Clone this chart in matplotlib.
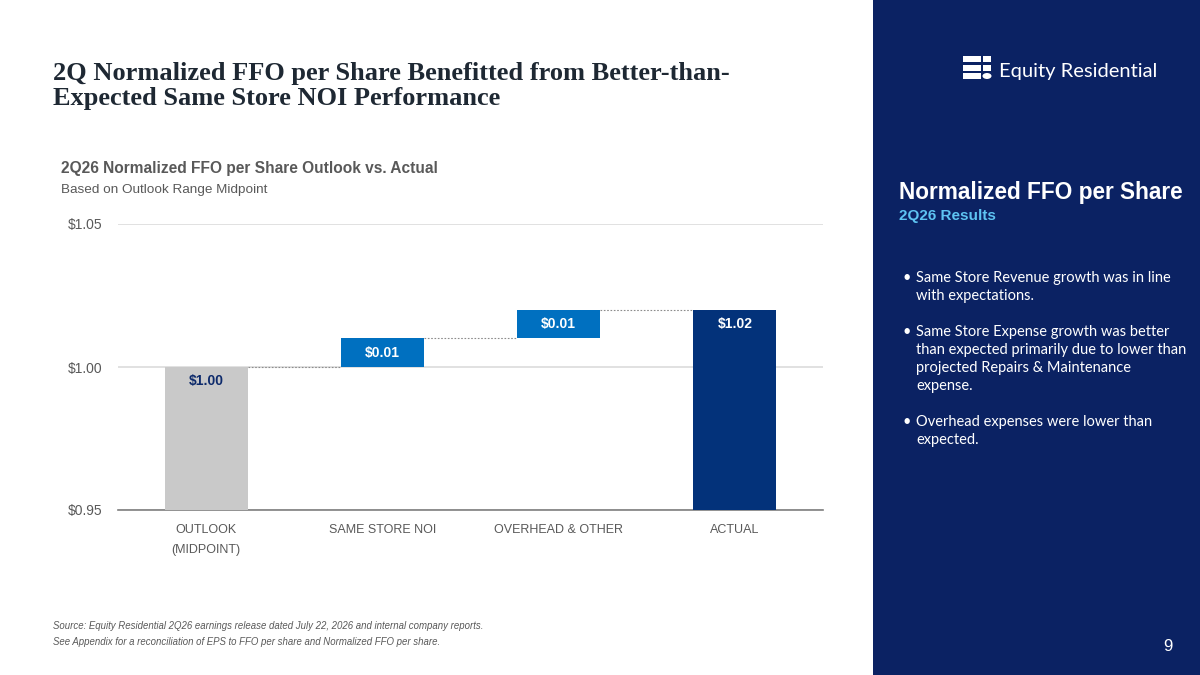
import matplotlib
matplotlib.use('Agg')
import matplotlib.pyplot as plt
from matplotlib.patches import Rectangle, Ellipse

# Data
categories = ['OUTLOOK\n(MIDPOINT)', 'SAME STORE NOI', 'OVERHEAD & OTHER', 'ACTUAL']
bottoms = [0.0, 1.00, 1.01, 0.0]
heights = [1.00, 0.01, 0.01, 1.02]
labels = ['$1.00', '$0.01', '$0.01', '$1.02']
yticks = [0.95, 1.00, 1.05]
ytick_labels = ['$0.95', '$1.00', '$1.05']

bullets = [
    ['Same Store Revenue growth was in line', 'with expectations.'],
    ['Same Store Expense growth was better', 'than expected primarily due to lower than',
     'projected Repairs & Maintenance', 'expense.'],
    ['Overhead expenses were lower than', 'expected.'],
]

bar_colors = ['#c9c9c9', '#0070c0', '#0070c0', '#03327a']
label_colors = ['#0d2a6b', 'white', 'white', 'white']
navy = '#0b2263'
gray = '#595959'

W, H = 1200, 675
fig = plt.figure(figsize=(12, 6.75), dpi=100)
fig.patch.set_facecolor('white')


def px(x, y):
    return x / W, 1 - y / H


# right panel
fig.patches.append(Rectangle((873 / W, 0), (W - 873) / W, 1, transform=fig.transFigure,
                             facecolor=navy, edgecolor='none', zorder=0))

# title
fig.text(*px(53, 80), '2Q Normalized FFO per Share Benefitted from Better-than-',
         family='Liberation Serif', weight='bold', fontsize=19, color='#1e2833')
fig.text(*px(53, 105), 'Expected Same Store NOI Performance',
         family='Liberation Serif', weight='bold', fontsize=19, color='#1e2833')

fig.text(*px(61, 173), '2Q26 Normalized FFO per Share Outlook vs. Actual',
         family='Liberation Sans', weight='bold', fontsize=11.2, color=gray)
fig.text(*px(61, 193), 'Based on Outlook Range Midpoint',
         family='Liberation Sans', fontsize=9.7, color=gray)

# chart
ax = fig.add_axes([118 / W, 1 - 510 / H, (823 - 118) / W, (510 - 224) / H])
x = range(len(categories))
ax.bar(x, heights, bottom=bottoms, width=0.47, color=bar_colors, zorder=3)
for i in x:
    top = bottoms[i] + heights[i]
    ax.text(i, top - 0.005, labels[i], ha='center', va='center', fontsize=10,
            weight='bold', color=label_colors[i], family='Liberation Sans', zorder=4)
for i in range(len(categories) - 1):
    level = bottoms[i] + heights[i]
    ax.plot([i + 0.235, i + 1 - 0.235], [level, level], color='#8c8c8c', lw=0.8,
            ls=(0, (1.5, 1.5)), zorder=2)

ax.set_xlim(-0.5, 3.5)
ax.set_ylim(0.95, 1.05)
ax.set_yticks(yticks)
ax.set_yticklabels(ytick_labels)
ax.set_xticks(list(x))
ax.set_xticklabels(categories, linespacing=1.85)
ax.grid(axis='y', color='#dcdcdc', lw=1.2, zorder=0)
ax.set_axisbelow(True)
for s in ['top', 'right', 'left']:
    ax.spines[s].set_visible(False)
ax.spines['bottom'].set_color('#7f7f7f')
ax.spines['bottom'].set_linewidth(1.2)
ax.tick_params(axis='both', length=0, colors=gray, labelsize=10)
ax.tick_params(axis='x', pad=10, labelsize=9)
ax.tick_params(axis='y', pad=11.5)
for t in ax.get_xticklabels() + ax.get_yticklabels():
    t.set_family('Liberation Sans')
ax.patch.set_alpha(0)

# footer
fig.text(*px(53, 629), 'Source: Equity Residential 2Q26 earnings release dated July 22, 2026 and internal company reports.',
         family='Liberation Sans', style='italic', fontsize=6.9, color=gray)
fig.text(*px(53, 645), 'See Appendix for a reconciliation of EPS to FFO per share and Normalized FFO per share.',
         family='Liberation Sans', style='italic', fontsize=6.9, color=gray)

# logo
for (x0, y0, w, h) in [(963, 56, 18, 6), (983, 56, 8, 6), (963, 64.5, 18, 6), (983, 64.5, 8, 6),
                       (963, 73, 18, 6)]:
    fig.patches.append(Rectangle((x0 / W, 1 - (y0 + h) / H), w / W, h / H,
                                 transform=fig.transFigure, facecolor='white', edgecolor='none'))
fig.patches.append(Ellipse((987 / W, 1 - 76 / H), 9 / W, 6 / H, transform=fig.transFigure,
                           facecolor='white', edgecolor='none'))
fig.text(*px(999, 77), 'Equity Residential', family='Lato', fontsize=14.5,
         color='white')

# right panel text
fig.text(*px(899, 199), 'Normalized FFO per Share', family='Liberation Sans', weight='bold',
         fontsize=16.3, color='white')
fig.text(*px(899, 220), '2Q26 Results', family='Liberation Sans', weight='bold',
         fontsize=11, color='#5ec4f2')

y = 282
for block in bullets:
    fig.text(*px(902, y), '\u2022', family='Lato', fontsize=10.5, color='white')
    for line in block:
        fig.text(*px(916, y), line, family='Lato', fontsize=10.5, color='white')
        y += 18
    y += 18

fig.text(*px(1163, 651), '9', family='Liberation Sans', fontsize=12, color='white')

fig.savefig('out.png', dpi=100, facecolor=fig.get_facecolor())
